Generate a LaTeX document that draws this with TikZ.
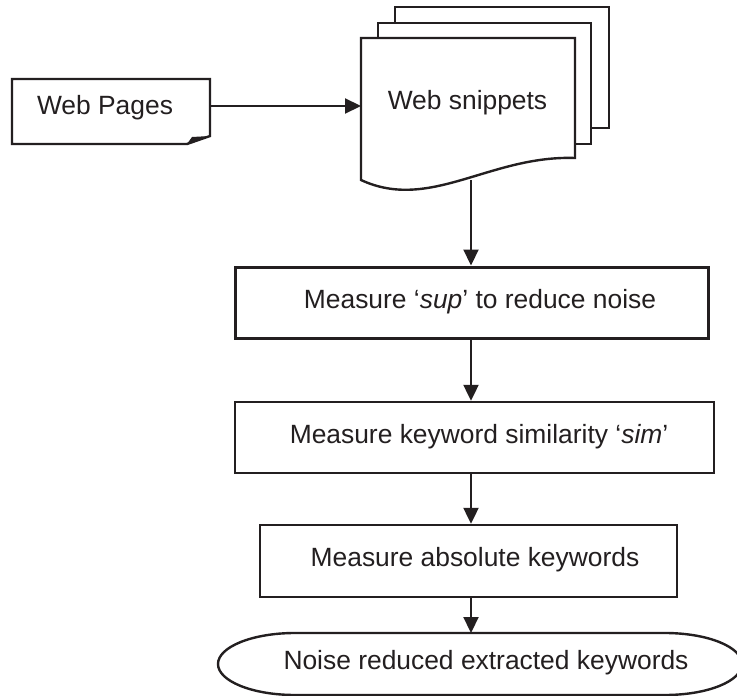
\documentclass[tikz,border=0pt]{standalone}
\usepackage{fontspec}
\setmainfont{Liberation Sans}
\usetikzlibrary{arrows.meta,calc}
\definecolor{ink}{RGB}{35,31,32}
\begin{document}
\begin{tikzpicture}[x=1pt,y=-1pt,
  line/.style={draw=ink, line width=2.4pt, line join=miter},
  arr/.style={draw=ink, line width=2.2pt, -{Triangle[length=16pt,width=15pt]}},
  box/.style={draw=ink, line width=2.4pt, fill=white, inner sep=0pt},
  ghost/.style={inner sep=0pt, outer sep=0pt},
  txt/.style={font=\fontsize{26.4}{31}\selectfont, text=ink, inner sep=0pt}]
\useasboundingbox (0,0) rectangle (737,696);
\clip (0,0) rectangle (737,696);
\fill[white] (0,0) rectangle (737,696);

% Web Pages (document with folded corner)
\node[ghost, minimum width=198pt, minimum height=65pt] (wp) at (111,111.5) {};
\draw[line, fill=white] (wp.north west) -- (wp.north east) -- ($(wp.south east)+(0,-8)$)
  -- ($(wp.south east)+(-23,0)$) -- (wp.south west) -- cycle;
\fill[ink] ($(wp.south east)+(-23,0)$) -- ($(wp.south east)+(-18,-7)$) -- ($(wp.south east)+(0,-8)$) -- cycle;
\node[txt] (wpt) at (105,108) {Web Pages};

% Web snippets (multi-document)
\draw[line, fill=white] (395,7) rectangle (609,128);
\draw[line, fill=white] (378,23) rectangle (591,144);
\node[ghost, minimum width=214pt, minimum height=142pt] (ws) at (468,109) {};
\draw[line, fill=white] (ws.south west) -- (ws.north west) -- (ws.north east) -- (575,158)
  .. controls (490,155) and (430,212) .. (ws.south west) -- cycle;
\node[txt] (wst) at (467.5,103) {Web snippets};

% process boxes
\node[box, line width=3pt, minimum width=473pt, minimum height=71pt] (b1) at (471.5,302.5) {};
\node[txt] (b1t) at (480,302) {Measure ‘\textit{sup}’ to reduce noise};
\node[box, minimum width=479pt, minimum height=71pt] (b2) at (474.5,437.5) {};
\node[txt] (b2t) at (479,437) {Measure keyword similarity ‘\textit{sim}’};
\node[box, minimum width=417pt, minimum height=72pt] (b3) at (468.5,561) {};
\node[txt] (b3t) at (475,560) {Measure absolute keywords};

% terminator
\node[ghost, minimum width=524pt, minimum height=62pt] (ne) at (480,664) {};
\draw[line, fill=white] (295,633) -- (665,633)
  arc[start angle=90, end angle=-90, x radius=77pt, y radius=31pt] -- (295,695)
  arc[start angle=270, end angle=90, x radius=77pt, y radius=31pt] -- cycle;
\node[txt] (net) at (486,663) {Noise reduced extracted keywords};

% connectors
\coordinate (wpo) at ($(wp.east)+(0,-5.5)$);
\coordinate (ax) at (471,0);
\draw[arr] (wpo) -- (wpo -| ws.west);
\draw[arr] (ws.south -| ax) -- (b1.north -| ax);
\draw[arr] (b1.south -| ax) -- (b2.north -| ax);
\draw[arr] (b2.south -| ax) -- (b3.north -| ax);
\draw[arr] (b3.south -| ax) -- (ne.north -| ax);
\end{tikzpicture}
\end{document}
